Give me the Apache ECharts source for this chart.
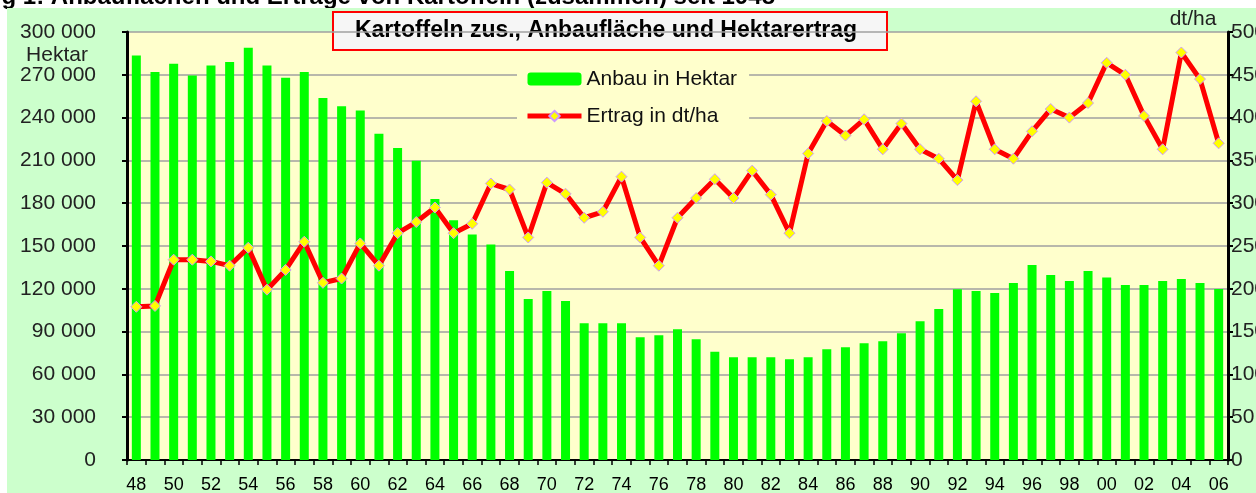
<!DOCTYPE html>
<html>
<head>
<meta charset="utf-8">
<title>Kartoffeln</title>
<script src="https://cdn.jsdelivr.net/npm/echarts@6/dist/echarts.min.js"></script>
<style>
  html, body { margin: 0; padding: 0; background: #fff; }
  #chart { width: 1256px; height: 493px; }
</style>
</head>
<body>
<div id="chart"></div>
<script>
// Jahre 1948 - 2006
const years = [
  1948, 1949, 1950, 1951, 1952, 1953, 1954, 1955, 1956, 1957,
  1958, 1959, 1960, 1961, 1962, 1963, 1964, 1965, 1966, 1967,
  1968, 1969, 1970, 1971, 1972, 1973, 1974, 1975, 1976, 1977,
  1978, 1979, 1980, 1981, 1982, 1983, 1984, 1985, 1986, 1987,
  1988, 1989, 1990, 1991, 1992, 1993, 1994, 1995, 1996, 1997,
  1998, 1999, 2000, 2001, 2002, 2003, 2004, 2005, 2006
]

// Anbau in Hektar
const anbau = [
  283500, 272000, 277700, 269500, 276500, 279000, 289000, 276500, 268000, 272000,
  253800, 248000, 245000, 228600, 218700, 209800, 183000, 168000, 158000, 151000,
  132400, 112800, 118400, 111400, 95800, 95800, 95800, 86000, 87400, 91600,
  84600, 75900, 72000, 72000, 72000, 70600, 72000, 77600, 79000, 81800,
  83300, 88800, 97200, 105800, 119600, 118400, 117000, 124000, 136700, 129600,
  125400, 132400, 128000, 122600, 122600, 125400, 126800, 124000, 119800
]

// Ertrag in dt/ha
const ertrag = [
  179, 180, 234, 234, 232, 227, 248, 199, 222, 255,
  207, 212, 253, 227, 265, 278, 295, 265, 276, 323,
  316, 260, 324, 311, 283, 290, 331, 260, 227, 283,
  306, 328, 306, 338, 310, 265, 358, 396, 379, 398,
  363, 393, 363, 352, 327, 419, 363, 352, 384, 410,
  400, 417, 464, 450, 402, 363, 476, 445, 370
]

const font = '"Liberation Sans", Arial, sans-serif'

const fmtThousand = v => String(v).replace(/\B(?=(\d{3})+(?!\d))/g, ' ')

const chart = echarts.init(document.getElementById('chart'))

let _option = {
  animation: false,
  textStyle: { fontFamily: font },
  grid: {
    left: 127,
    right: 28,
    top: 32,
    bottom: 33,
    outerBoundsMode: 'none',
    show: true,
    backgroundColor: '#ffffcc',
    borderWidth: 0
  },
  legend: {
    orient: 'vertical',
    left: 517,
    top: 60,
    padding: [8, 12, 8, 8],
    itemGap: 15,
    itemWidth: 54,
    itemHeight: 13,
    backgroundColor: '#ffffcc',
    lineStyle: { width: 5 },
    textStyle: { fontSize: 21, color: '#111', fontFamily: font, lineHeight: 22 },
    data: ['Anbau in Hektar', 'Ertrag in dt/ha']
  },
  xAxis: {
    type: 'category',
    data: years,
    axisLine: { lineStyle: { color: '#000', width: 2 } },
    axisTick: { show: true, interval: 0, length: 5, lineStyle: { color: '#000', width: 1.5 } },
    axisLabel: {
      interval: 1,
      margin: 16,
      color: '#000',
      fontSize: 18,
      fontFamily: font,
      formatter: v => String(v).slice(2)
    },
    splitLine: { show: false }
  },
  yAxis: [
    {
      type: 'value',
      position: 'left',
      min: 0,
      max: 300000,
      interval: 30000,
      axisLine: { show: true, lineStyle: { color: '#000', width: 3 } },
      axisTick: { show: true, length: 5, lineStyle: { color: '#000', width: 2 } },
      axisLabel: { margin: 31, fontSize: 21, color: '#222', fontFamily: font, formatter: fmtThousand },
      splitLine: { show: true, lineStyle: { color: '#a0a0a0', width: 1.5 } }
    },
    {
      type: 'value',
      position: 'right',
      min: 0,
      max: 500,
      interval: 50,
      axisLine: { show: true, lineStyle: { color: '#000', width: 3 } },
      axisTick: { show: true, length: 5, lineStyle: { color: '#000', width: 2 } },
      axisLabel: { margin: 3, fontSize: 21, color: '#222', fontFamily: font },
      splitLine: { show: false }
    }
  ],
  series: [
    {
      name: 'Anbau in Hektar',
      type: 'bar',
      yAxisIndex: 0,
      barWidth: 9,
      itemStyle: { color: '#00ff00' },
      data: anbau,
      z: 2
    },
    {
      name: 'Ertrag in dt/ha',
      type: 'line',
      yAxisIndex: 1,
      symbol: 'diamond',
      symbolSize: 11,
      lineStyle: { color: '#ff0000', width: 5 },
      itemStyle: { color: '#ffff00', borderColor: '#cc99ff', borderWidth: 1 },
      data: ertrag,
      z: 3
    }
  ],
  graphic: [
    {
      type: 'text',
      z: -20,
      style: {
        text: 'Abbildung 1: Anbauflächen und Erträge von Kartoffeln (zusammen) seit 1948',
        x: 775, y: -3,
        align: 'right', verticalAlign: 'middle',
        font: 'bold 24px ' + font,
        fill: '#000'
      }
    },
    {
      type: 'rect',
      z: -10,
      shape: { x: 7, y: 8, width: 1249, height: 485 },
      style: { fill: '#ccffcc' }
    },
    {
      type: 'group',
      z: 10,
      children: [
        {
          type: 'rect',
          shape: { x: 333, y: 12, width: 554, height: 38 },
          style: { fill: '#f6f6f6', stroke: '#ff0000', lineWidth: 2 }
        },
        {
          type: 'text',
          style: {
            text: 'Kartoffeln zus., Anbaufläche und Hektarertrag',
            x: 606, y: 31,
            align: 'center', verticalAlign: 'middle',
            font: 'bold 23px ' + font,
            fill: '#000'
          }
        }
      ]
    },
    {
      type: 'text',
      style: {
        text: 'Hektar',
        x: 57, y: 55,
        align: 'center', verticalAlign: 'middle',
        font: '21px ' + font,
        fill: '#222'
      }
    },
    {
      type: 'text',
      style: {
        text: 'dt/ha',
        x: 1193, y: 19,
        align: 'center', verticalAlign: 'middle',
        font: '21px ' + font,
        fill: '#222'
      }
    }
  ]
}

chart.setOption(_option)
</script>
</body>
</html>
